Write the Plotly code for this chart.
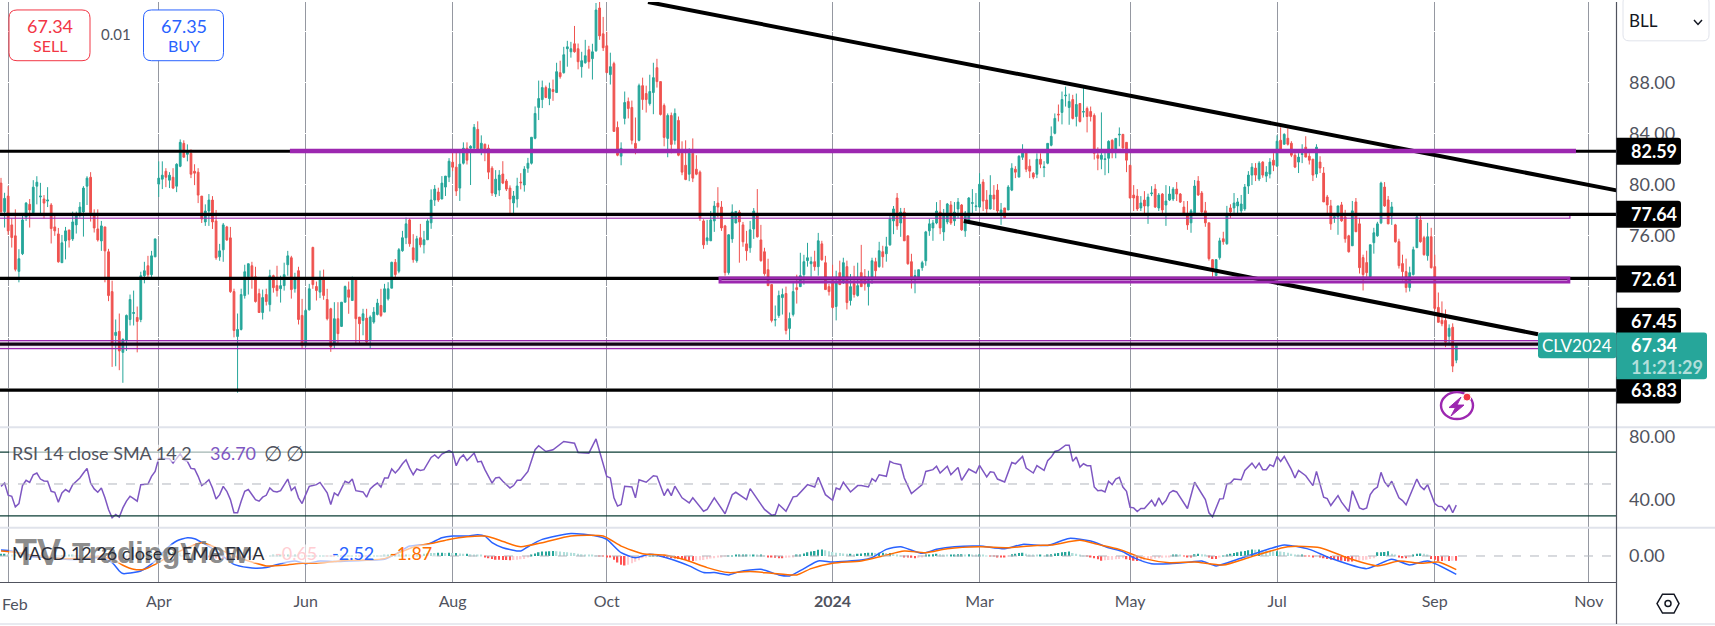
import plotly.graph_objects as go

W, H = 1715, 626
AXIS_X = 1616.5

opens = [80.09,77.85,79.07,76.81,75.95,73.16,74.54,77.43,78.42,77.77,
79.85,79.0,78.84,78.68,78.37,76.65,76.10,73.84,75.55,76.41,
75.71,76.81,77.66,77.82,79.85,80.55,77.51,76.49,75.55,76.65,
74.70,71.57,68.13,68.45,66.80,67.74,69.38,69.85,69.54,69.38,
72.82,73.60,72.90,74.30,80.01,80.40,81.02,80.32,80.55,79.85,
81.41,83.21,82.35,82.43,81.02,80.95,79.07,77.04,77.90,78.76,
77.12,74.30,74.85,76.65,75.79,71.57,68.05,68.60,71.26,72.74,
73.60,72.74,71.41,69.93,71.34,70.55,72.82,72.04,71.80,72.04,
73.68,74.23,71.80,73.21,69.70,67.49,70.14,75.04,71.97,71.53,
72.57,70.95,70.22,67.49,69.44,68.84,70.74,71.71,70.87,72.49,
69.57,69.31,69.49,67.75,69.18,69.78,70.48,69.96,71.0,71.84,
73.87,73.17,74.78,75.80,77.20,75.01,74.0,75.80,75.25,75.64,
76.97,78.76,79.39,78.84,79.78,80.56,81.73,81.34,79.70,81.65,
82.83,82.83,82.83,84.31,82.59,83.14,82.83,81.26,79.23,79.55,
80.80,80.25,79.70,78.53,78.84,80.17,79.94,81.26,81.65,83.61,
86.03,86.65,87.59,86.73,87.43,87.20,88.76,88.76,90.64,90.40,
91.03,90.64,89.23,89.54,90.56,89.86,90.48,93.84,91.81,90.87,
88.61,89.47,84.46,82.20,85.17,86.49,86.03,83.21,83.45,87.74,
87.12,86.34,87.20,89.15,88.06,86.18,83.60,85.40,83.45,85.01,
82.43,81.49,80.79,82.43,81.18,80.95,77.12,75.56,75.56,77.12,
78.52,78.21,76.73,73.06,75.71,76.96,77.82,76.81,75.32,75.01,
76.49,77.59,75.63,74.70,73.29,72.12,69.33,69.70,71.10,71.42,
68.68,69.78,71.88,71.96,72.90,74.0,73.76,73.92,73.53,75.32,
73.84,71.96,72.43,70.40,73.06,72.43,73.53,70.87,72.20,71.26,
73.06,72.74,71.96,72.69,73.92,73.53,74.70,74.54,75.24,77.12,
78.92,76.96,77.82,75.95,73.92,72.74,72.74,73.45,73.99,76.34,
76.57,76.96,77.82,76.26,77.04,78.37,77.12,78.06,78.37,76.34,
77.20,78.5,78.24,78.21,80.17,78.76,78.06,79.15,79.54,77.64,
78.14,77.98,79.54,81.18,80.56,82.12,82.59,81.42,80.87,80.79,
81.96,81.31,81.65,83.06,84.0,85.5,85.64,86.94,86.03,86.65,
85.32,86.34,85.66,85.95,85.71,85.40,82.28,81.96,81.94,82.04,
83.45,82.74,83.87,83.92,83.29,81.49,79.15,79.07,78.14,78.76,
78.29,79.26,79.62,78.14,79.23,78.37,78.76,78.84,79.62,79.23,
78.21,77.59,76.97,77.75,80.25,79.31,77.91,76.97,74.08,72.83,
74.24,75.72,75.33,78.14,78.14,78.30,77.91,78.06,79.86,80.72,
81.27,80.41,81.74,80.64,80.80,81.89,81.42,83.45,83.14,83.61,
83.22,82.28,81.74,82.34,82.91,82.20,81.97,80.80,81.74,80.88,
79.0,78.30,77.36,77.44,78.38,77.44,75.95,75.17,78.61,76.89,
74.24,73.85,72.75,75.41,75.95,76.97,79.78,78.77,77.52,76.81,
75.49,73.77,73.14,71.89,72.91,75.02,77.20,75.80,74.39,75.88,
73.53,70.33,69.31,69.31,68.06,68.77,66.19]

closes = [77.85,78.89,76.34,75.82,73.32,74.15,77.20,78.52,77.98,79.77,
80.16,79.07,78.52,78.76,76.52,76.34,73.91,75.40,76.34,75.63,
77.04,77.59,78.21,79.70,80.48,77.77,76.57,75.63,76.73,74.77,
71.26,67.48,68.37,66.91,67.82,69.70,70.95,69.93,69.23,72.82,
73.21,72.90,74.38,75.71,80.48,80.71,80.55,80.71,79.70,81.57,
83.29,82.12,82.51,80.79,80.87,79.15,77.27,77.90,78.76,77.04,
74.23,74.77,76.81,75.63,71.57,68.52,68.60,71.34,73.13,73.76,
72.66,70.79,69.93,71.10,70.79,72.82,71.88,71.65,72.04,72.90,
74.38,71.73,72.56,69.38,67.36,70.09,71.79,72.12,71.66,72.49,
71.27,69.44,67.23,69.44,68.27,70.74,71.97,71.13,72.57,69.44,
69.05,69.83,67.62,69.57,69.96,70.67,69.70,71.79,71.79,73.87,
72.91,74.86,75.80,76.89,75.33,74.08,75.72,75.25,75.64,77.12,
78.76,79.62,78.76,80.09,80.64,81.81,81.34,79.47,81.58,82.83,
81.89,82.98,84.47,82.59,83.22,82.59,80.95,79.31,80.40,80.72,
80.09,79.62,78.84,79.08,79.86,80.12,81.19,81.65,83.69,85.56,
86.73,87.59,86.81,87.51,87.28,88.84,88.45,90.17,90.79,90.64,
90.40,89.62,89.70,90.09,89.62,90.40,93.68,91.65,90.72,88.76,
89.23,84.15,82.28,82.82,86.42,85.95,83.45,82.82,87.74,86.65,
86.65,87.28,88.37,88.06,85.48,83.68,85.40,83.13,85.56,82.28,
80.95,80.37,82.43,80.48,80.79,77.35,75.24,75.79,77.20,78.29,
78.21,76.57,73.06,76.03,77.82,77.87,77.04,75.48,74.78,76.42,
77.90,75.87,74.0,72.98,72.04,69.31,69.38,71.26,71.34,68.52,
69.46,71.57,71.73,72.82,73.92,74.23,73.92,73.53,75.56,74.07,
71.73,71.57,70.32,72.28,72.12,73.84,70.71,71.96,71.34,72.04,
71.96,72.17,72.43,73.99,73.21,74.78,74.31,75.09,77.28,78.06,
76.73,77.82,75.56,73.76,72.74,72.82,73.29,73.84,76.26,76.89,
76.96,77.90,76.57,77.67,78.45,76.96,77.82,78.60,76.42,77.74,
78.92,78.55,78.29,80.0,78.68,78.06,79.15,78.84,77.90,77.98,
77.38,79.78,81.26,80.95,82.20,82.59,81.18,81.03,80.56,81.96,
81.57,81.36,83.21,83.76,85.17,85.45,86.65,86.99,86.50,85.17,
86.26,84.93,85.71,85.32,85.32,82.43,82.04,82.28,81.99,83.37,
82.74,83.60,83.92,82.85,81.89,78.92,78.92,78.06,78.53,78.29,
78.99,79.31,78.21,79.15,77.98,78.68,79.23,79.62,79.23,78.60,
77.74,76.81,77.91,79.86,79.16,77.83,76.97,74.16,73.22,74.08,
75.56,75.49,77.52,77.83,78.53,78.61,78.45,79.78,80.72,81.34,
80.72,81.66,80.72,80.95,81.74,81.50,83.38,82.75,83.92,83.14,
82.28,81.35,82.13,82.39,82.13,81.89,80.72,82.91,81.27,78.61,
78.38,76.89,77.44,78.30,77.13,75.72,74.70,77.91,76.27,73.45,
72.91,73.06,75.25,76.19,76.89,80.09,78.30,76.89,78.22,75.49,
73.61,73.14,71.89,73.06,74.86,77.44,75.49,74.47,75.88,73.45,
70.25,69.16,69.05,67.60,68.69,65.72,67.34]

highs = [80.50,79.33,79.85,77.33,78.03,74.90,77.51,78.60,78.84,80.32,
80.63,80.11,79.15,79.77,78.52,77.51,76.57,76.02,76.65,76.41,
77.85,77.85,78.60,79.85,80.63,80.95,78.03,78.03,77.12,76.65,
74.93,72.43,69.38,69.85,67.90,69.77,71.34,71.65,70.40,73.13,
73.91,74.38,74.77,75.71,81.80,81.80,81.26,80.95,81.26,81.65,
83.52,83.45,83.13,82.74,81.57,81.26,79.07,78.42,79.23,79.07,
77.98,75.32,76.96,76.73,76.65,71.80,69.85,71.80,73.68,73.76,
73.91,73.52,71.80,71.73,71.80,73.29,72.90,73.60,72.82,73.84,
74.77,74.38,73.05,73.52,71.0,70.22,72.18,75.09,72.36,73.22,
73.30,71.79,70.30,70.74,70.74,70.74,72.05,72.36,72.75,72.49,
69.57,70.22,70.22,69.70,70.35,71.0,71.79,72.18,72.31,73.92,
74.13,74.99,76.34,77.38,77.33,76.08,75.95,76.89,76.34,77.25,
79.60,79.94,79.73,80.64,80.64,82.05,82.59,82.46,82.72,83.29,
83.29,83.06,84.73,84.94,83.84,83.19,83.11,81.42,81.11,81.11,
81.81,80.40,79.91,79.47,80.51,80.87,81.42,82.07,83.69,86.11,
88.14,88.14,87.75,87.98,88.22,89.54,89.70,90.79,91.26,91.18,
92.43,91.05,90.40,91.34,90.87,91.03,94.23,94.31,93.14,91.97,
90.33,89.62,84.93,83.29,87.28,86.81,86.57,85.24,87.90,88.37,
87.74,88.60,89.54,89.85,88.06,86.34,85.56,85.63,85.95,85.32,
83.37,83.45,82.82,83.60,82.28,81.08,77.25,77.20,77.90,78.68,
79.77,78.68,76.81,76.08,78.42,77.90,77.98,77.04,76.34,77.12,
78.13,79.62,76.81,75.01,74.15,72.17,70.48,71.65,71.81,71.96,
69.93,72.28,72.90,74.62,74.46,75.40,74.31,74.78,76.18,75.56,
74.38,72.17,73.68,73.21,74.0,74.23,74.0,72.95,73.60,73.84,
75.24,73.34,73.21,74.23,74.23,75.48,75.17,75.87,77.64,78.29,
79.31,78.14,78.14,75.95,74.54,73.29,73.29,73.99,76.34,77.28,
77.20,78.60,78.76,78.06,78.53,78.68,78.60,78.92,78.45,77.90,
78.99,79.62,79.31,80.87,80.40,79.54,80.71,79.93,80.01,78.53,
78.14,79.93,81.65,81.42,82.28,83.14,82.59,81.96,80.95,82.43,
82.43,81.81,83.21,84.54,85.56,86.26,87.28,87.67,87.12,87.02,
87.12,86.34,87.59,86.10,86.10,85.56,82.90,85.64,82.59,83.45,
83.53,83.60,84.46,83.92,83.29,81.49,79.93,79.62,79.07,79.46,
79.26,79.85,80.01,79.31,79.31,79.93,79.85,79.78,80.17,79.31,
78.68,78.68,78.06,80.33,80.64,79.47,78.61,76.97,74.13,74.13,
75.80,76.27,78.30,78.43,79.31,78.92,79.16,80.02,81.03,81.66,
81.66,81.81,81.81,81.42,82.05,82.44,83.84,84.47,84.0,84.39,
83.38,82.44,82.44,83.14,83.77,82.44,81.97,83.14,82.20,81.35,
79.16,78.77,77.75,78.30,78.61,77.99,76.03,78.69,78.92,77.36,
74.47,74.78,75.25,76.58,77.05,80.20,80.17,79.08,78.61,76.89,
75.72,74.47,74.16,73.53,75.10,77.52,77.52,75.95,76.97,76.58,
74.47,71.50,70.80,70.17,69.0,69.08,67.44]

lows = [77.64,76.60,76.03,75.03,73.16,72.30,74.44,77.12,76.60,77.64,
78.42,77.69,77.33,78.21,75.35,75.95,73.84,73.84,74.10,75.03,
75.55,76.13,77.38,75.89,78.37,77.07,76.21,75.50,74.77,72.30,
70.82,65.66,65.71,65.40,64.41,66.91,68.91,68.91,66.80,69.17,
72.22,72.56,72.56,74.30,79.0,79.62,79.77,79.70,79.62,79.38,
81.34,82.12,81.80,80.48,79.93,78.52,76.96,76.73,76.73,76.49,
74.07,73.99,73.91,75.55,71.47,67.98,63.63,68.52,71.02,71.34,
71.80,70.71,69.93,69.38,70.48,70.01,71.49,71.18,70.71,71.65,
72.82,71.02,71.49,68.99,67.10,67.23,70.09,71.79,70.87,71.06,
70.93,69.31,66.84,67.10,67.49,68.79,70.74,69.83,70.87,67.49,
67.49,68.14,67.49,67.10,69.05,69.70,69.57,69.96,70.87,71.84,
72.70,73.01,74.70,75.30,75.09,73.84,73.84,75.04,74.57,75.64,
76.50,78.30,78.61,78.84,79.08,80.17,81.03,79.08,78.69,81.55,
81.55,79.94,82.83,82.59,82.28,81.81,80.40,79.08,79.0,79.08,
80.01,79.47,77.70,77.70,78.17,79.60,79.42,80.90,81.55,83.53,
85.04,85.98,86.76,86.21,86.55,87.20,88.29,88.69,89.23,89.94,
90.33,89.02,88.37,89.47,89.08,88.22,90.40,91.34,90.46,88.76,
87.83,84.15,82.20,81.49,84.70,85.17,83.13,82.35,83.37,85.84,
85.63,86.18,85.50,87.59,85.40,82.98,82.12,82.43,83.11,82.20,
80.71,80.32,80.24,80.17,80.71,77.12,74.93,75.24,75.56,76.26,
77.38,76.34,72.82,72.90,75.40,76.94,73.84,75.09,74.0,74.62,
75.71,75.82,73.92,72.82,72.04,69.15,68.84,69.51,69.77,68.21,
67.74,69.62,70.63,71.96,72.12,73.53,72.74,73.21,72.82,73.99,
71.73,71.26,70.24,69.31,72.12,72.17,70.17,70.48,71.10,71.18,
71.96,71.65,70.48,72.17,72.69,73.45,73.45,73.92,75.17,76.08,
76.42,75.87,75.56,73.68,71.81,71.44,72.69,73.21,73.60,75.95,
75.56,76.86,76.08,75.56,76.86,76.81,76.73,77.35,76.34,75.87,
77.20,77.74,77.90,78.14,77.90,77.72,78.03,77.98,77.72,76.81,
77.35,77.98,79.46,80.48,80.56,81.91,80.95,80.48,80.40,80.48,
81.26,80.56,81.57,82.98,83.92,84.93,84.70,86.10,84.67,85.09,
84.54,84.85,85.25,84.07,84.93,81.94,81.10,81.18,80.71,80.87,
82.04,82.04,82.98,82.74,80.95,78.89,77.90,77.90,77.90,77.72,
76.89,79.07,78.14,77.90,77.72,76.73,78.68,78.68,78.68,78.53,
77.51,76.42,76.19,77.52,79.08,77.75,76.66,74.0,72.75,72.83,
74.08,75.25,75.25,77.36,77.75,77.65,77.60,77.91,79.24,79.94,
80.25,80.25,80.51,80.17,80.46,81.03,81.42,82.75,83.12,83.04,
82.13,81.27,80.88,81.66,82.13,81.55,80.25,80.51,80.88,78.61,
77.67,76.42,76.97,76.03,77.05,75.41,74.63,75.17,76.27,72.99,
71.66,72.75,72.75,74.55,75.88,76.87,78.22,76.87,76.81,75.41,
73.38,72.44,71.50,71.58,72.83,75.02,75.41,74.39,74.0,73.38,
70.09,69.16,68.85,67.21,67.36,65.25,65.95]

rsi_x = list(range(146)) + [147,149,150,152,154,157,160,161,164,166,168,169,170,171,172,173,174,176,177,178,180,182,183,185,186,187,188,190,192,193,196,197,199,202,204,205,208,209,213,215,216,217,219,221,222,225,227,228,230,232,233,234,235,237,239,
240,242,243,244,245,247,248,249,251,252,254,257,258,260,261,262,264,
265,267,268,270,272,273,275,276,277,278,280,282,283,285,286,288,289,291,292,293,294,295,297,298,299,300,301,302,303,304,305,306,307,308,309,310,311,312,313,314,315,316,317,318,319,321,322,323,324,325,326,327,328,331,333,336,337,338,340,341,342,343,344,346,347,349,350,351,352,353,354,355,356,357,358,360,361,362,364,366,367,369,370,371,373,374,376,377,379,380,381,382,383,384,385,386,387,388,390,391,392,395,396,397,398,400,401,402,403,404,405,406]
rsi_values = [48.5,50.6,43,42.3,35.6,37.7,49,52.3,51,55.8,56.9,53.1,51.9,51.7,45.4,44.8,38.6,44.4,46.5,45,
49.6,51.7,53.8,56.9,59.8,50.6,46.9,44.8,47.5,41.3,34,28.8,30.8,29.2,35,39.2,42.3,40.8,39.2,49.6,
49.6,50,54.8,57.9,66.2,66.2,66.2,65.8,63.1,66.2,69,65.2,64.2,59.8,59.4,54.8,49,50.6,52.7,47.5,
40.6,43.3,48.5,45.4,40.2,31.9,31.9,39.2,45.4,46.5,43.3,40.2,39.2,41.7,42.9,47.5,45.4,45,45.8,49.6,
53.1,46,48.1,41.3,37.7,43.3,48.5,49,49.6,51,47.5,44.4,37.1,44.4,42.7,47.5,51.7,50.6,53.1,45.8,
45.6,45,41.7,46.9,49,50.6,48.1,53.8,53.8,59.4,56.9,59.4,62.7,65.2,60,55.8,59.4,58.5,59,63.1,
66.7,68.3,66.2,68.8,69.8,71,69.8,61.5,66.2,68.3,64.8,67.3,69.4,63.8,64.2,59,54.8,50.6,53.8,54.2,
51.7,49.6,47.5,49,52.3,52.3,
57.9,71.5,74,70.4,71.5,76.7,75.6,69.8,69.4,78.3,63.1,54.8,53.8,41.3,36.1,37.1,48.6,48.1,41.3,52.7,51.1,55.2,54.8,42.7,46.9,42.7,48.6,41.3,38.1,41.3,32.9,34,41.3,31.3,43.3,44.8,40.2,47.1,34,30.4,30.8,37.1,32.9,41.9,42.3,49.6,48.1,54.2,43.3,39.8,47.5,46.5,51.1,45,49,
49,48.1,53.3,51.7,55.8,54.8,64.2,63.1,62.1,53.8,44,49.6,57.9,59,61.1,56.9,61.1,
55.8,60.4,52.3,59.4,56.9,61.7,54.4,57.7,57.3,53.1,51.3,63.5,62.7,67.3,60,56.9,61.5,58.5,64.6,66.9,70.4,71,74.4,74.4,64.2,66.9,60.6,62.7,61.5,61.5,48.1,45.8,46,45,51.7,49.6,53.1,54.2,48.1,45.4,35.4,35,32.7,34.6,34.6,39.8,36,41.3,37.1,39.6,44.4,45.8,45,34.6,51.1,40.2,31.9,29.4,40.6,40.8,50,50.6,53.1,52.7,58.5,63.1,60,63.1,59,59,62.1,61,67.3,64.2,67.3,59,53.8,58.5,55.2,49,57.9,41.7,40.8,36.5,42.7,38.6,32.7,45.8,35,34,35,43.3,46.5,48.1,57.3,51.3,48.5,51.7,41.3,39.6,36.9,53.1,48.5,46.5,49.6,37.7,36,35.8,33.3,36.9,31.9,36.7]

macd_x = [0,3,5,9,14,18,23,28,31,33,34,37,39,41,43,46,49,52,54,57,60,63,65,69,71,74,79,82,85,89,93,97,102,107,110,114,119,123,126,130,133,135,137,140,145,147,151,159,166,169,173,177,181,187,192,196,199,203,206,212,217,220,224,228,232,240,243,247,251,257,261,266,273,280,285,292,298,304,309,313,316,321,326,332,335,339,345,352,358,365,371,381,388,393,398,406]
macd_values = [.82,.68,.36,-.09,-.23,-.45,-.45,-.23,-.91,-2.05,-2.41,-2.27,-2.05,-1.45,-.68,.91,2.05,2.5,2.36,1.59,.68,-.45,-1.14,-1.59,-1.68,-1.59,-.91,-.68,-1.05,-.68,-.77,-.68,-.59,-.45,.23,1.36,1.59,2.5,2.73,2.73,2.91,2.73,1.82,1.14,.68,1.27,2.27,3.09,2.73,2.27,.45,-.23,.23,-.45,-1.36,-2.27,-2.27,-2.59,-2.14,-1.82,-2.59,-2.73,-1.73,-.68,-.82,-.55,-.23,.91,1.27,.36,.91,1.27,1.36,1.0,1.59,1.45,2.41,2.05,1.14,.59,-.23,-1.05,-1.05,-.82,-.68,-1.36,-.45,.68,1.5,.91,-.32,-1.73,-.45,-1.23,-.68,-2.52]
signal_x = [0,5,9,14,20,28,32,34,37,40,43,48,56,60,65,70,74,79,84,88,93,97,102,107,111,116,121,125,130,135,137,141,145,151,159,168,173,179,185,191,197,203,209,215,222,226,232,240,246,252,258,264,273,281,289,293,301,306,312,319,326,333,341,348,359,368,376,384,390,396,401,406]
signal_values = [.68,.45,.09,-.23,-.36,-.09,-.68,-1.27,-1.82,-1.82,-1.14,.23,1.82,1.14,0,-.82,-1.36,-1.27,-1.0,-1.0,-.77,-.59,-.55,-.36,.45,1.36,1.82,2.27,2.64,2.73,2.5,1.82,1.27,1.82,2.73,2.73,1.36,.32,.14,-.55,-1.59,-2.27,-2.14,-2.36,-2.59,-1.73,-1.0,-.68,0,.68,.45,1.0,1.27,1.14,1.45,1.5,2.14,1.59,.91,-.36,-.91,-.82,-1.23,-.23,1.27,1.14,-.32,-1.36,-.68,-1.0,-.82,-1.87]
hist_values = [.3,.3,.25,.2,.2,.15,.1,.05,-.05,-.1,-.1,-.15,-.1,-.1,-.05,-.05,0,.05,.05,.1,.1,.05,.05,.05,.05,-.05,-.1,-.1,-.2,-.2,
-.35,-.4,-.5,-.55,-.5,-.45,-.4,-.3,-.2,-.1,.05,.2,.3,.4,.5,.5,.55,.55,.55,.5,.45,.4,.3,.25,.15,.1,0,-.1,-.2,-.3,
-.35,-.4,-.45,-.45,-.5,-.5,-.4,-.4,-.35,-.3,-.25,-.2,-.15,-.1,-.05,.05,.1,.15,.15,.2,.2,.15,.15,.1,.05,.05,.05,.05,.05,.05,
.05,-.05,-.05,-.05,.05,.05,.05,.05,.05,.05,-.05,-.05,-.05,.05,.05,.05,.05,.1,.1,.1,.1,.15,.2,.2,.15,.1,.2,.2,.3,.35,
.4,.4,.45,.45,.4,.45,.4,.4,.35,.3,.3,.25,.2,.15,.1,-.1,-.3,-.4,-.5,-.5,-.55,-.55,-.6,-.55,-.5,-.45,-.4,-.2,.1,.35,
.5,.6,.6,.65,.7,.65,.6,.55,.5,.45,.4,.3,.25,.2,.15,.1,.05,-.05,-.05,-.1,-.2,-.5,-.9,-1.2,-1.3,-1.2,-1.0,-.8,-.6,-.3,
-.1,.05,.1,.1,.05,-.1,-.2,-.3,-.35,-.4,-.45,-.55,-.65,-.7,-.65,-.6,-.55,-.45,-.35,-.3,-.2,-.1,-.05,.05,.05,.1,.15,.15,.2,.15,
.15,.1,.1,.05,-.1,-.2,-.25,-.3,-.3,-.25,-.2,-.15,.1,.2,.35,.5,.6,.7,.85,.9,.8,.65,.55,.45,.4,.35,.3,.3,.25,.3,
.35,.4,.45,.45,.4,.45,.45,.4,.4,.3,.15,.05,-.1,-.2,-.25,-.3,-.25,-.1,.1,.2,.25,.3,.25,.2,.15,.15,.2,.25,.25,.2,
.25,.2,.15,.15,.1,.05,-.05,-.05,-.1,-.1,-.15,-.05,.25,.3,.4,.45,.3,.2,.15,.1,.1,.05,.2,.25,.35,.4,.5,.55,.6,.4,
.3,.1,.05,-.05,-.1,-.3,-.45,-.65,-.6,-.55,-.5,-.45,-.4,-.3,-.45,-.55,-.65,-.7,-.65,-.6,-.5,-.45,-.35,-.3,-.25,-.2,-.15,.1,.15,.1,
-.05,-.1,-.1,.25,.3,.25,.2,-.2,-.4,-.4,-.1,.05,.2,.3,.4,.5,.6,.7,.8,.9,.85,.9,.8,.75,.7,.65,.65,.6,.55,.45,
.3,.2,.1,.1,-.05,-.05,-.1,-.05,-.2,-.3,-.4,-.5,-.55,-.6,-.65,-.7,-.75,-.75,-.7,-.65,-.6,-.5,-.4,-.3,.5,.5,.55,.65,.3,.1,
-.2,-.3,-.3,-.2,.2,.3,.35,.3,.15,-.4,-.5,-.7,-.7,-.65,-.7,-.65,-.65]

month_pos = [2,44,85,126,169,232,273,315,356,400,443]
month_labels = ["","Apr","Jun","Aug","Oct","<b>2024</b>","Mar","May","Jul","Sep","Nov"]
price_grid = [64,68,72,76,80,84,88,92]
price_ticks = ["","","","76.00","80.00","84.00","88.00",""]
level_prices = [82.59,77.64,72.61,67.45,63.83]
upper_trend_x, upper_trend_y = [180.5,450.7], [94.31,79.52]
lower_trend_x, lower_trend_y = [268.6,428.8], [77.12,68.22]
X_RANGE = [-0.279,450.7]

FONT = "Lato, 'Open Sans', sans-serif"
UP, DOWN = "#26a69a", "#ef5350"
PURPLE = "#9c27b0"

def px(x): return x / W
def py(y): return 1 - y / H

hist_colors = []
for i, v in enumerate(hist_values):
    prev = hist_values[i-1] if i else v
    if v >= 0:
        hist_colors.append("#26a69a" if v >= prev else "#b2dfdb")
    else:
        hist_colors.append("#ff5252" if v <= prev else "#ffcdd2")

fig = go.Figure()
bars = list(range(len(opens)))
fig.add_trace(go.Candlestick(x=bars, open=opens, high=highs, low=lows, close=closes,
    increasing=dict(line=dict(color=UP, width=1), fillcolor=UP),
    decreasing=dict(line=dict(color=DOWN, width=1), fillcolor=DOWN),
    xaxis="x", yaxis="y", whiskerwidth=0))
fig.add_trace(go.Scatter(x=rsi_x, y=rsi_values, mode="lines", line=dict(color="#7e57c2", width=1.5),
    xaxis="x2", yaxis="y2"))
fig.add_trace(go.Bar(x=list(range(len(hist_values))), y=hist_values, marker=dict(color=hist_colors, line=dict(width=0)),
    width=0.42, xaxis="x3", yaxis="y3"))
fig.add_trace(go.Scatter(x=macd_x, y=macd_values, mode="lines", line=dict(color="#2962ff", width=1.5, shape="spline", smoothing=0.6),
    xaxis="x3", yaxis="y3"))
fig.add_trace(go.Scatter(x=signal_x, y=signal_values, mode="lines", line=dict(color="#ff6d00", width=1.5, shape="spline", smoothing=0.6),
    xaxis="x3", yaxis="y3"))

shapes = []
def dline(x0, y0, x1, y1, color, width, xref="x", yref="y", dash="solid"):
    shapes.append(dict(type="line", xref=xref, yref=yref, x0=x0, y0=y0, x1=x1, y1=y1,
                       line=dict(color=color, width=width, dash=dash)))
def drect(x0, y0, x1, y1, line, width, fill):
    shapes.append(dict(type="rect", xref="x", yref="y", x0=x0, y0=y0, x1=x1, y1=y1,
                       line=dict(color=line, width=width), fillcolor=fill))

# this zone sits beneath its level line
drect(-2, 77.65, 437.7, 77.33, PURPLE, 1.2, "rgba(156,39,176,0.12)")
for lv in level_prices:
    dline(X_RANGE[0], lv, X_RANGE[1], lv, "#000000", 3.2)
dline(upper_trend_x[0], upper_trend_y[0], upper_trend_x[1], upper_trend_y[1], "#000000", 4)
dline(lower_trend_x[0], lower_trend_y[0], lower_trend_x[1], lower_trend_y[1], "#000000", 4)
# purple zones over the levels
dline(80.6, 82.61, 439.4, 82.61, PURPLE, 4.4)
drect(200.6, 72.63, 437.4, 72.32, PURPLE, 3, "rgba(156,39,176,0.2)")
drect(-2, 67.72, 445, 67.10, PURPLE, 1.2, "rgba(156,39,176,0.12)")

for v, col, d in [(70, "#0b3d35", "solid"), (30, "#0b3d35", "solid"), (50, "#b2b5be", "dash")]:
    dline(X_RANGE[0], v, X_RANGE[1], v, col, 1.2 if d == "solid" else 1, xref="x2", yref="y2", dash=d)
dline(X_RANGE[0], 0, X_RANGE[1], 0, "#b2b5be", 1, xref="x3", yref="y3", dash="dash")

def chrome_rect(x0, y0, x1, y1, fill, line=None, width=0):
    shapes.append(dict(type="rect", xref="paper", yref="paper", x0=px(x0), x1=px(x1), y0=py(y0), y1=py(y1),
                       fillcolor=fill, line=dict(color=line or fill, width=width)))
def rrect(x0, y0, x1, y1, r, fill, line=None, width=0, left=True):
    rl = r if left else 0
    p = (f"M {px(x0+rl)} {py(y0)} L {px(x1-r)} {py(y0)} Q {px(x1)} {py(y0)} {px(x1)} {py(y0+r)} "
         f"L {px(x1)} {py(y1-r)} Q {px(x1)} {py(y1)} {px(x1-r)} {py(y1)} L {px(x0+rl)} {py(y1)} "
         f"Q {px(x0)} {py(y1)} {px(x0)} {py(y1-rl)} L {px(x0)} {py(y0+rl)} Q {px(x0)} {py(y0)} {px(x0+rl)} {py(y0)} Z")
    shapes.append(dict(type="path", xref="paper", yref="paper", path=p, fillcolor=fill,
                       line=dict(color=line or fill, width=width)))
def stroke(points, color, width, fill="rgba(0,0,0,0)", close=False):
    p = "M " + " L ".join(f"{px(a)} {py(b)}" for a, b in points) + (" Z" if close else "")
    shapes.append(dict(type="path", xref="paper", yref="paper", path=p, fillcolor=fill,
                       line=dict(color=color, width=width)))
def pline(x0, y0, x1, y1, color, width):
    shapes.append(dict(type="line", xref="paper", yref="paper", x0=px(x0), x1=px(x1), y0=py(y0), y1=py(y1),
                       line=dict(color=color, width=width)))

# legend veils
chrome_rect(9, 445, 300, 462, "rgba(255,255,255,0.62)")
chrome_rect(9, 545, 437, 564, "rgba(255,255,255,0.62)")

# pane frames
pline(0, 427.3, AXIS_X, 427.3, "#e0e3eb", 2)
pline(AXIS_X, 427.3, W, 427.3, "#e0e3eb", 2)
pline(0, 528.3, W, 528.3, "#e0e3eb", 2)
pline(0, 583.3, AXIS_X, 583.3, "#50535e", 1.2)
pline(0, 625, W, 625, "#e0e3eb", 1.5)
pline(AXIS_X, 0, AXIS_X, 625, "#50535e", 1.2)

# price labels
for yc in [150, 213.3, 278.3, 320.7, 390]:
    rrect(AXIS_X, yc-13.5, 1681, yc+13.5, 3, "#000000", left=False)
rrect(1538, 332, AXIS_X, 358, 3, UP)
rrect(AXIS_X, 332, 1707, 379, 3, UP, left=False)

# trade buttons + symbol box
rrect(9, 8, 90, 59, 8, "#ffffff", "#f23645", 1)
rrect(143.5, 8, 223.5, 59, 8, "#ffffff", "#2962ff", 1)
rrect(1623, -6, 1709, 39, 6, "#ffffff", "#e0e3eb", 1)
stroke([(1694, 18), (1698, 22.5), (1702, 18)], "#131722", 1.5)

# lightning badge
shapes.append(dict(type="circle", xref="paper", yref="paper", x0=px(1441), x1=px(1473), y0=py(392), y1=py(419),
                   line=dict(color=PURPLE, width=2.4), fillcolor="#ffffff"))
stroke([(1461, 397), (1449, 407.5), (1455.5, 407.5), (1451, 416), (1464, 405), (1457, 405)], PURPLE, 1, fill=PURPLE, close=True)
shapes.append(dict(type="circle", xref="paper", yref="paper", x0=px(1463), x1=px(1471), y0=py(393), y1=py(401),
                   line=dict(color="#ffffff", width=1), fillcolor="#f23645"))

# settings icon
stroke([(1657, 604.5), (1662.5, 595), (1674, 595), (1679, 604.5), (1674, 614), (1662.5, 614)], "#131722", 1.5, close=True)
shapes.append(dict(type="circle", xref="paper", yref="paper", x0=px(1665), x1=px(1671), y0=py(601.5), y1=py(607.5),
                   line=dict(color="#131722", width=1.5), fillcolor="#ffffff"))

ann = []
def text(x, y, s, color, size, anchor="left", bold=False, font=FONT):
    ann.append(dict(xref="paper", yref="paper", x=px(x), y=py(y), text=f"<b>{s}</b>" if bold else s,
                    showarrow=False, xanchor=anchor, yanchor="middle",
                    font=dict(color=color, size=size, family=font)))

text(49.5, 24, "67.34", "#f23645", 18, "center")
text(49.5, 44, "SELL", "#f23645", 16, "center")
text(116, 32, "0.01", "#50535e", 15, "center")
text(183.5, 24, "67.35", "#2962ff", 18, "center")
text(183.5, 44, "BUY", "#2962ff", 16, "center")
text(1627, 19, "BLL", "#131722", 17)

for s, yc in [("82.59",150),("77.64",213.3),("72.61",278.3),("67.45",320.7),("63.83",390)]:
    text(1629, yc, s, "#ffffff", 18, bold=True)
text(1577, 345, "CLV2024", "#ffffff", 17, "center")
text(1629, 345, "67.34", "#ffffff", 18, bold=True)
text(1629, 367, "11:21:29", "#b2dfdb", 18, bold=True)

text(10, 453, "RSI 14 close SMA 14 2", "#50535e", 18)
text(208, 453, "36.70", "#7e57c2", 18)
text(262, 453, "∅", "#50535e", 21)
text(284, 453, "∅", "#50535e", 21)

text(13, 553, "TV", "rgba(125,125,125,0.9)", 36, bold=True, font="'Liberation Sans', sans-serif")
text(70, 553, "TradingView", "rgba(125,125,125,0.9)", 30, bold=True, font="'Liberation Sans', sans-serif")
text(10, 554, "MACD 12 26 close 9 EMA EMA", "#2a2e39", 18)
text(273, 554, "-0.65", "#ffcdd2", 18)
text(330, 554, "-2.52", "#2962ff", 18)
text(388, 554, "-1.87", "#ff6d00", 18)
text(0, 604, "Feb", "#50535e", 16, "left")

xdom = [0, AXIS_X / W]
x_common = dict(domain=xdom, range=X_RANGE, type="linear", showgrid=True, gridcolor="#9598a1", gridwidth=1,
                zeroline=False, tickmode="array", tickvals=month_pos, showline=False)
y_common = dict(side="right", anchor="x", zeroline=False, showline=False, ticks="outside", ticklen=8,
                tickcolor="rgba(255,255,255,0)", tickfont=dict(color="#50535e", size=18, family=FONT), fixedrange=True)

fig.update_layout(
    width=W, height=H, margin=dict(l=0, r=0, t=0, b=0), showlegend=False,
    paper_bgcolor="#ffffff", plot_bgcolor="#ffffff", barmode="overlay",
    shapes=shapes, annotations=ann,
    xaxis=dict(**x_common, anchor="y", showticklabels=False, ticks="", rangeslider=dict(visible=False)),
    xaxis2=dict(**x_common, anchor="y2", showticklabels=False, ticks=""),
    xaxis3=dict(**x_common, anchor="y3", showticklabels=True, ticktext=month_labels, ticks="outside", ticklen=4,
                tickcolor="rgba(255,255,255,0)", tickfont=dict(color="#50535e", size=16, family=FONT)),
    yaxis=dict(**{**y_common, "anchor": "x"}, domain=[py(427.3), 1], range=[60.92, 94.31], showgrid=True, gridcolor="#ffffff",
               gridwidth=1, tickmode="array", tickvals=price_grid, ticktext=price_ticks),
    yaxis2=dict(**{**y_common, "anchor": "x2"}, domain=[py(528.3), py(428)], range=[22.5, 85.2], showgrid=False,
                tickmode="array", tickvals=[40, 80], ticktext=["40.00", "80.00"]),
    yaxis3=dict(**{**y_common, "anchor": "x3"}, domain=[py(583.3), py(529)], range=[-3.63, 3.77], showgrid=False,
                tickmode="array", tickvals=[0], ticktext=["0.00"]),
)

assert len(opens) == len(closes) == len(highs) == len(lows), (len(opens), len(closes), len(highs), len(lows))
assert len(rsi_x) == len(rsi_values), (len(rsi_x), len(rsi_values))
assert len(macd_x) == len(macd_values), (len(macd_x), len(macd_values))
assert len(signal_x) == len(signal_values), (len(signal_x), len(signal_values))

fig.write_html("out.html", config={"displayModeBar": False},
               post_script="document.body.style.margin='0';document.body.style.marginTop='-1px';document.body.style.overflow='hidden';")
